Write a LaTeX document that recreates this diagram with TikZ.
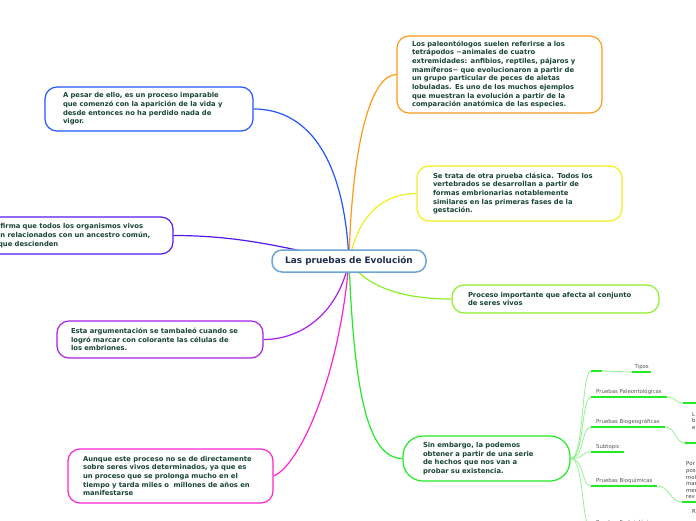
\documentclass[tikz,border=0pt]{standalone}
\usepackage{fontspec}
\setmainfont{DejaVu Sans}
\usetikzlibrary{backgrounds}

\definecolor{txtgreen}{RGB}{24,70,52}
\definecolor{rootnavy}{RGB}{30,45,80}
\definecolor{rootblue}{RGB}{110,165,215}
\definecolor{brOrange}{RGB}{255,153,25}
\definecolor{brBlue}{RGB}{35,85,255}
\definecolor{brViolet}{RGB}{85,25,240}
\definecolor{brYellow}{RGB}{240,240,30}
\definecolor{brLime}{RGB}{140,240,40}
\definecolor{brPurple}{RGB}{170,30,235}
\definecolor{brPink}{RGB}{255,35,215}
\definecolor{brGreen}{RGB}{35,235,35}
\definecolor{subGreen}{RGB}{150,240,150}
\definecolor{lblGray}{RGB}{85,85,85}

\begin{document}
\begin{tikzpicture}[x=1pt,y=-1pt,
  bx/.style={draw=#1,line width=1.2pt,fill=white,rounded corners=12pt,align=left,
    text=txtgreen,font=\fontsize{6.8}{8.7}\selectfont\bfseries,inner ysep=0pt},
  br/.style={draw=#1,line width=1.2pt},
  subline/.style={draw=subGreen,line width=0.8pt},
  subthick/.style={draw=brGreen,line width=1.8pt},
  lbl/.style={font=\fontsize{5.4}{6}\selectfont,text=lblGray,inner ysep=2pt,anchor=south west},
  kid/.style={font=\fontsize{5.4}{6.6}\selectfont,text=black!75,align=left,inner sep=0pt,anchor=west}]
\useasboundingbox (0,0) rectangle (696,520);
\clip (0,0) rectangle (696,520);

% central topic
\node[draw=rootblue,line width=1.5pt,fill=white,rounded corners=10pt,inner sep=0pt,
  minimum width=154pt,minimum height=22pt,text=rootnavy,
  font=\fontsize{8.9}{10}\selectfont\bfseries] (root) at (349,261) {Las pruebas de Evolución};

% main topics
\node[bx=brOrange,text width=175pt,inner xsep=15pt,minimum height=77pt] (pOrange) at (499.5,74.5)
  {Los paleontólogos suelen referirse a los\\tetrápodos −animales de cuatro\\extremidades: anfibios, reptiles, pájaros y\\mamíferos− que evolucionaron a partir de\\un grupo particular de peces de aletas\\lobuladas. Es uno de los muchos ejemplos\\que muestran la evolución a partir de la\\comparación anatómica de las especies.};
\node[bx=brBlue,text width=172pt,inner xsep=18pt,minimum height=44pt] (pBlue) at (149,109)
  {A pesar de ello, es un proceso imparable\\que comenzó con la aparición de la vida y\\desde entonces no ha perdido nada de\\vigor.};
\node[bx=brViolet,text width=175pt,inner xsep=14pt,minimum height=37pt] (pViolet) at (71.5,235.5)
  {Se afirma que todos los organismos vivos\\están relacionados con un ancestro común,\\del que descienden};
\node[bx=brYellow,text width=173pt,inner xsep=16pt,minimum height=55pt] (pYellow) at (519.5,193.5)
  {Se trata de otra prueba clásica. Todos los\\vertebrados se desarrollan a partir de\\formas embrionarias notablemente\\similares en las primeras fases de la\\gestación.};
\node[bx=brLime,text width=175pt,inner xsep=16pt,minimum height=28pt] (pLime) at (555.5,299)
  {Proceso importante que afecta al conjunto\\de seres vivos};
\node[bx=brPurple,text width=178pt,inner xsep=14pt,minimum height=37pt] (pPurple) at (160,339.5)
  {Esta argumentación se tambaleó cuando se\\logró marcar con colorante las células de\\los embriones.};
\node[bx=brPink,text width=175pt,inner xsep=15pt,minimum height=54pt] (pPink) at (170.5,476)
  {Aunque este proceso no se de directamente\\sobre seres vivos determinados, ya que es\\un proceso que se prolonga mucho en el\\tiempo y tarda miles o\ \ millones de años en\\manifestarse};
\node[bx=brGreen,rounded corners=20pt,text width=127pt,inner xsep=20pt,minimum height=45pt] (pGreen) at (486.5,458.5)
  {Sin embargo, la podemos\\obtener a partir de una serie\\de hechos que nos van a\\probar su existencia.};

% subtopics
\node[lbl,minimum width=19pt,inner xsep=0pt] (sTipos) at (632,372) {Tipos};
\coordinate (tA) at (591,371);
\coordinate (tB) at (602,371);
\foreach \i/\ly/\lw/\txt in {1/397/76/Pruebas Paleontológicas,2/427/74/Pruebas Biogeográficas,
    3/452/33/Subtopic,4/486/66/Pruebas Bioquímicas,5/528/70/Pruebas Embriológicas}{
  \pgfmathsetmacro{\tw}{\lw-10}
  \node[lbl,inner xsep=5pt,align=left,text width=\tw pt] (s\i) at (591,\ly) {\mbox{\txt}};
}
\coordinate (c1) at (683,403);
\coordinate (c2) at (685,443);
\coordinate (c3) at (682,502);
\node[kid] (k2) at (692,421) {L\\b\\e};
\node[kid] (k3) at (686,480.5) {Por\\pos\\mol\\mar\\mer\\rev};
\node[kid] (k5) at (692,512) {R};

\begin{scope}[on background layer]
\draw[br=brOrange] (root.center) .. controls +(3,-120) and +(-25,0) .. (pOrange.west);
\draw[br=brBlue] (root.center) .. controls +(-5,-110) and +(50,0) .. (pBlue.east);
\draw[br=brViolet] (root.center) .. controls +(-60,-12) and +(70,0) .. (pViolet.east);
\draw[br=brYellow] (root.center) .. controls +(10,-50) and +(-30,0) .. (pYellow.west);
\draw[br=brLime] (root.center) .. controls +(20,30) and +(-40,0) .. (pLime.west);
\draw[br=brPurple] (root.center) .. controls +(-10,50) and +(40,0) .. (pPurple.east);
\draw[br=brPink] (root.center) .. controls +(-10,120) and +(25,-10) .. (pPink.east);
\draw[br=brGreen] (root.center) .. controls +(5,130) and +(-35,0) .. (pGreen.west);
% hub of the last topic
\draw[subline] (pGreen.east) .. controls +(14,0) and +(-10,0) .. (tA);
\draw[subthick] (tA) -- (tB);
\draw[subline] (tB) .. controls +(15,0) and +(-15,0) .. (sTipos.south west);
\draw[subthick] (sTipos.south west) -- (sTipos.south east);
\foreach \i in {1,...,5}{
  \draw[subline] (pGreen.east) .. controls +(14,0) and +(-10,0) .. (s\i.south west);
  \draw[subthick] (s\i.south west) -- (s\i.south east);
}
\draw[subline] (s1.south east) .. controls +(8,0) and +(-8,0) .. (c1);
\draw[subline] (s2.south east) .. controls +(10,0) and +(-10,0) .. (c2);
\draw[subline] (s4.south east) .. controls +(12,0) and +(-12,0) .. (c3);
\draw[subthick] (c1) -- ++(20,0);
\draw[subthick] (c2) -- ++(20,0);
\draw[subthick] (c3) -- ++(20,0);
\end{scope}
\end{tikzpicture}
\end{document}
